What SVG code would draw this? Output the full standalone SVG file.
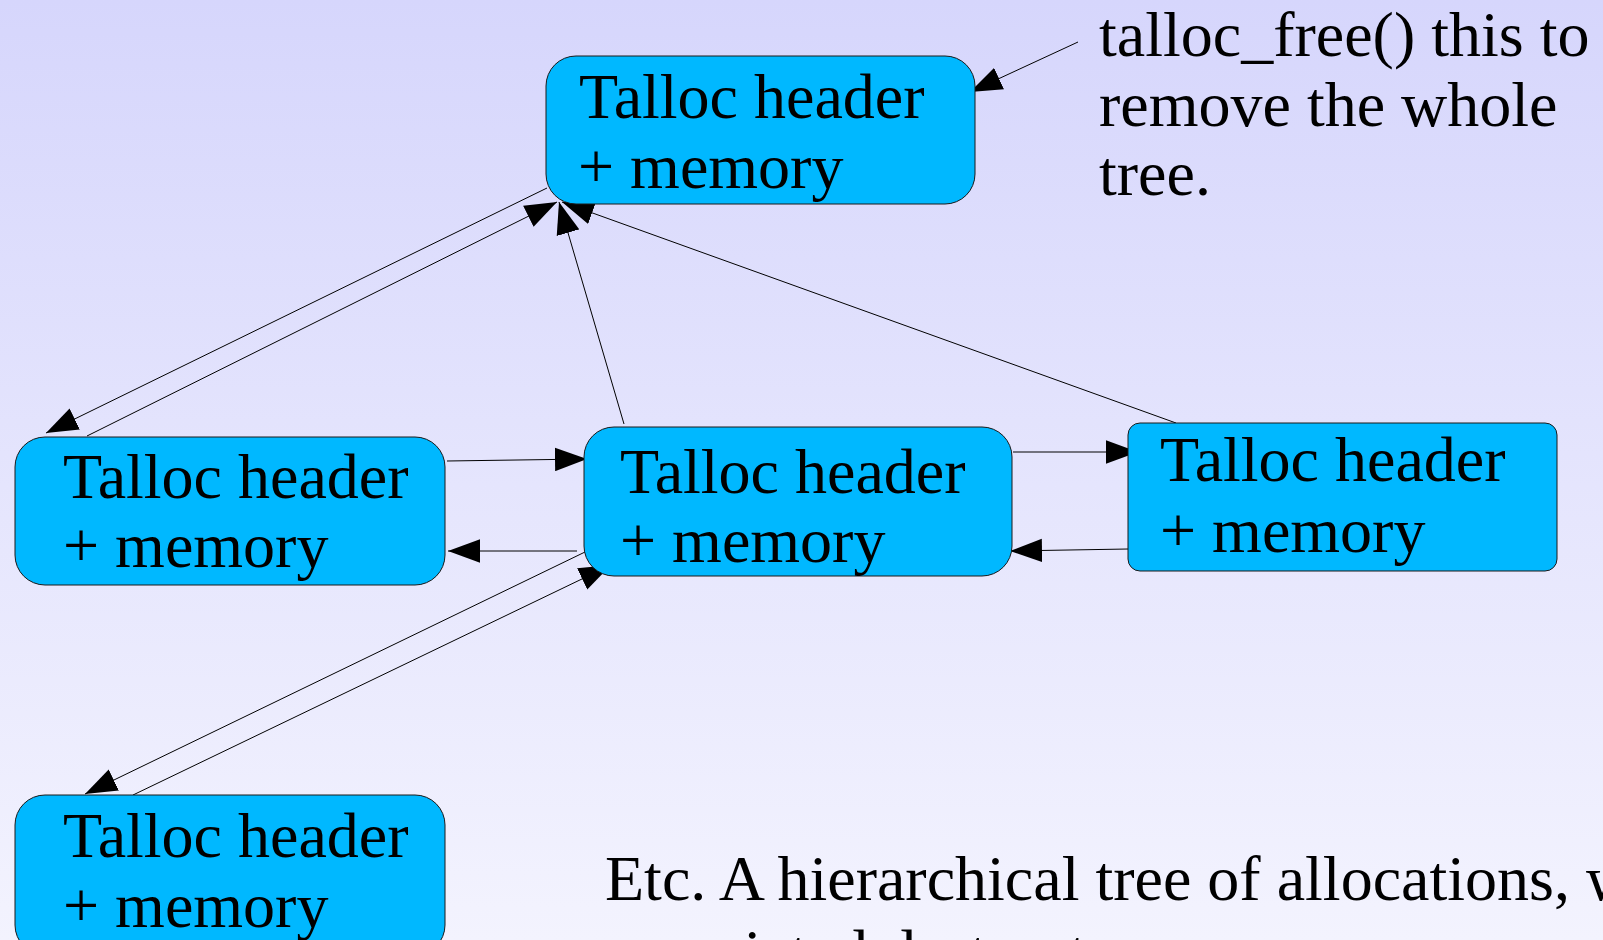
<svg xmlns="http://www.w3.org/2000/svg" width="1603" height="940" viewBox="0 0 1603 940">
<defs>
<linearGradient id="bg" x1="0" y1="0" x2="0" y2="1">
<stop offset="0" stop-color="#d6d6fc"/>
<stop offset="1" stop-color="#f3f3fe"/>
</linearGradient>
<marker id="ah" markerUnits="userSpaceOnUse" markerWidth="32" markerHeight="24" viewBox="0 0 30 22" refX="30" refY="11" orient="auto">
<path d="M0,0 L30,11 L0,22 z" fill="#000"/>
</marker>
<style>
.node{fill:#00b8ff;stroke:#1a1a1a;stroke-width:1}
.t{font-family:"Liberation Serif","Times New Roman",serif;font-size:64px;fill:#000}
.c{stroke:#000;stroke-width:1;fill:none;marker-end:url(#ah)}
</style>
</defs>
<rect x="0" y="0" width="1603" height="940" fill="url(#bg)"/>

<g id="connectors">
<line class="c" x1="1078" y1="42" x2="970" y2="92"/>
<line class="c" x1="547" y1="188" x2="46" y2="433"/>
<line class="c" x1="87" y1="436" x2="557" y2="202"/>
<line class="c" x1="624" y1="424" x2="559" y2="202"/>
<line class="c" x1="1176" y1="423" x2="562" y2="202"/>
<line class="c" x1="447" y1="461" x2="587" y2="459"/>
<line class="c" x1="577" y1="551" x2="448" y2="551"/>
<line class="c" x1="1013" y1="452" x2="1138" y2="452"/>
<line class="c" x1="1128" y1="549" x2="1010" y2="551"/>
<line class="c" x1="585" y1="552" x2="85" y2="794"/>
<line class="c" x1="133" y1="795" x2="611" y2="565"/>
</g>

<g id="node-top">
<rect class="node" x="546" y="56" width="429" height="148" rx="30" ry="30"/>
<text class="t" x="579" y="118">Talloc header</text>
<text class="t" x="578" y="188">+ memory</text>
</g>

<g id="node-left">
<rect class="node" x="15" y="437" width="430" height="148" rx="30" ry="30"/>
<text class="t" x="63" y="498">Talloc header</text>
<text class="t" x="63" y="567">+ memory</text>
</g>

<g id="node-middle">
<rect class="node" x="584" y="427" width="428" height="149" rx="30" ry="30"/>
<text class="t" x="620" y="493">Talloc header</text>
<text class="t" x="620" y="562">+ memory</text>
</g>

<g id="node-right">
<rect class="node" x="1128" y="423" width="429" height="148" rx="12" ry="12"/>
<text class="t" x="1160" y="481">Talloc header</text>
<text class="t" x="1160" y="552">+ memory</text>
</g>

<g id="node-bottom">
<rect class="node" x="15" y="795" width="430" height="160" rx="30" ry="30"/>
<text class="t" x="63" y="857">Talloc header</text>
<text class="t" x="63" y="927">+ memory</text>
</g>

<g id="note-free">
<text class="t" x="1099" y="56">talloc_free() this to</text>
<text class="t" x="1099" y="126">remove the whole</text>
<text class="t" x="1099" y="195">tree.</text>
</g>

<g id="note-etc">
<text class="t" x="605" y="900">Etc. A hierarchical tree of allocations, with</text>
<text class="t" x="605" y="974">associated destructors.</text>
</g>
</svg>
